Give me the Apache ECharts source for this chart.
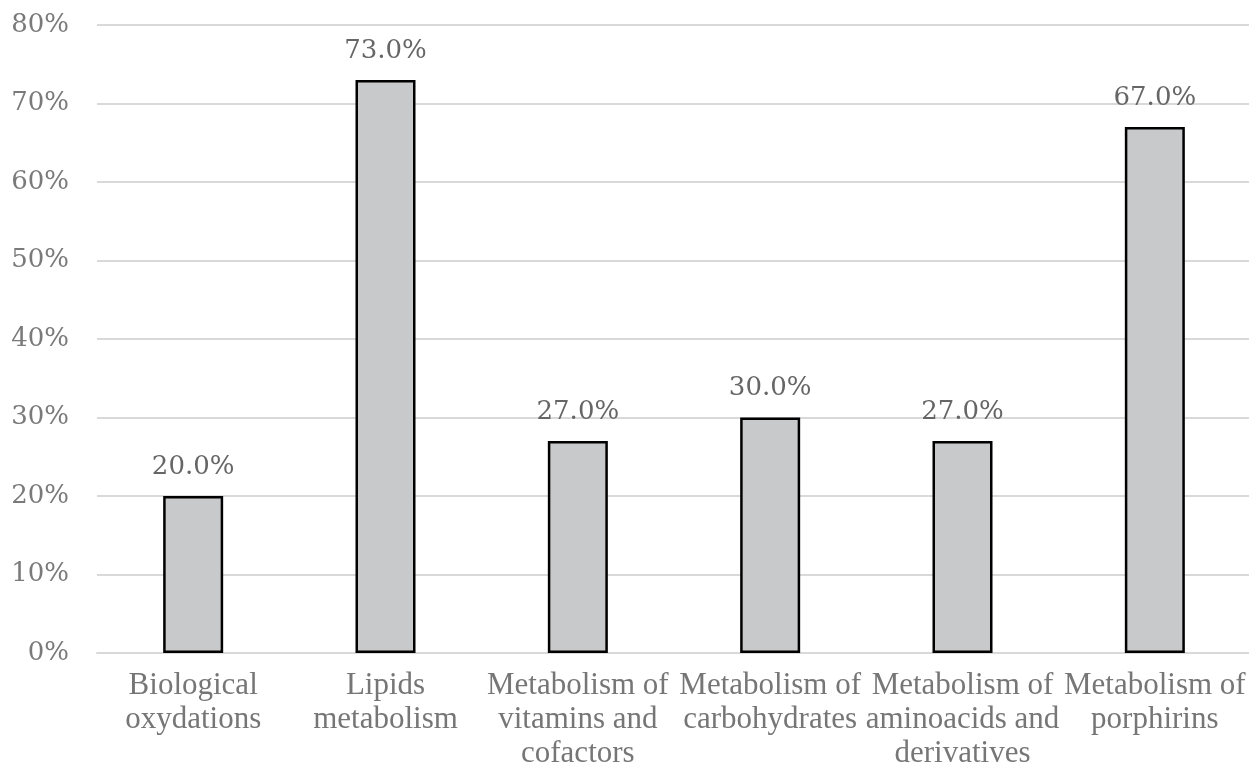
<!DOCTYPE html>
<html><head><meta charset="utf-8">
<script src="https://cdn.jsdelivr.net/npm/echarts@6/dist/echarts.min.js"></script>
<style>html,body{margin:0;padding:0;background:#fff}#c{width:1249px;height:769px}</style>
</head><body><div id="c"></div>
<script>
const categories = ["Biological\noxydations", "Lipids\nmetabolism", "Metabolism of\nvitamins and\ncofactors", "Metabolism of\ncarbohydrates", "Metabolism of\naminoacids and\nderivatives", "Metabolism of\nporphirins"];
const values = [20.0, 73.0, 27.0, 30.0, 27.0, 67.0];
const yTicks = [0, 10, 20, 30, 40, 50, 60, 70, 80];

const chart = echarts.init(document.getElementById('c'));
chart.setOption({
  animation: false,
  grid: {left: 97, right: -2, top: 25, bottom: 116, containLabel: false, outerBoundsMode: 'none'},
  xAxis: {
    type: 'category', data: categories,
    axisLine: {show: true, lineStyle: {color: '#d9d9d9', width: 2}},
    axisTick: {show: false},
    axisLabel: {interval: 0, color: '#767676', fontFamily: 'Liberation Serif', fontSize: 31, lineHeight: 34, margin: 16}
  },
  yAxis: {
    type: 'value', min: yTicks[0], max: yTicks[yTicks.length - 1], interval: 10,
    axisLine: {show: false}, axisTick: {show: false},
    splitLine: {lineStyle: {color: '#d9d9d9', width: 2}},
    axisLabel: {formatter: v => v + '%', color: '#7a7a7a', fontFamily: 'DejaVu Serif', fontSize: 26, margin: 28}
  },
  series: [{
    type: 'bar', data: values, barWidth: 60,
    itemStyle: {color: '#c8c9cb', borderColor: '#000', borderWidth: 2.5},
    label: {show: true, position: 'top', distance: 16, formatter: p => p.value.toFixed(1) + '%', color: '#666', fontFamily: 'DejaVu Serif', fontSize: 26}
  }]
});
</script></body></html>
